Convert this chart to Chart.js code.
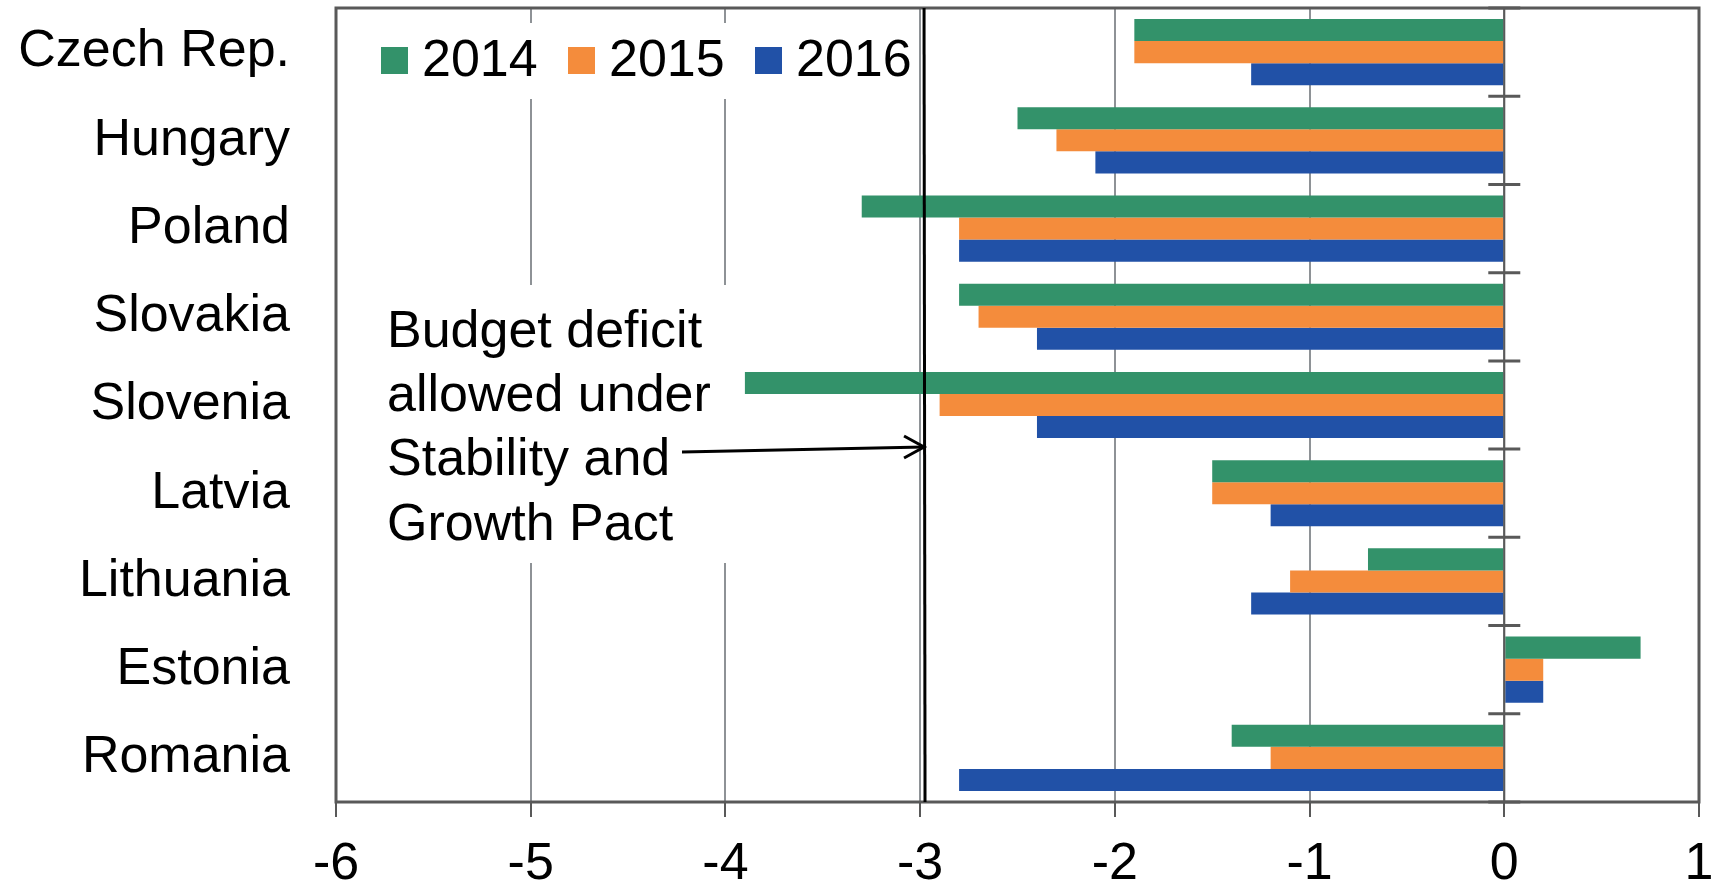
<!DOCTYPE html>
<html>
<head>
<meta charset="utf-8">
<script src="https://cdn.jsdelivr.net/npm/chart.js@4.4.1/dist/chart.umd.min.js"></script>
<style>
html,body{margin:0;padding:0;background:#fff;}
#wrap{width:1713px;height:886px;}
</style>
</head>
<body>
<div id="wrap"><canvas id="deficitChart" width="1713" height="886"></canvas></div>
<script>

// ----------------------------
// データ
// ----------------------------

const countries = ["Czech Rep.","Hungary","Poland","Slovakia","Slovenia","Latvia","Lithuania","Estonia","Romania"];

const years = ["2014","2015","2016"];

const values2014 = [-1.9,-2.5,-3.3,-2.8,-3.9,-1.5,-0.7,0.7,-1.4];
const values2015 = [-1.9,-2.3,-2.8,-2.7,-2.9,-1.5,-1.1,0.2,-1.2];
const values2016 = [-1.3,-2.1,-2.8,-2.4,-2.4,-1.2,-1.3,0.2,-2.8];

const xTicks = [-6,-5,-4,-3,-2,-1,0,1];

const deficitLimit = -2.98;

const noteLines = ["Budget deficit","allowed under","Stability and","Growth Pact"];

const colors = ["#33926a","#f48c3c","#2151a7"];

const FONT = '"Liberation Sans", Arial, sans-serif';
const AXIS_GREY = "#595959";

// ----------------------------
// 枠・凡例・注釈
// ----------------------------

const decoPlugin = {

id:"deco",

beforeDatasetsDraw(chart){

    const ctx = chart.ctx;
    const a = chart.chartArea;

    // 凡例と注釈の白い背景 (グリッドを隠す)
    ctx.save();
    ctx.fillStyle = "#fff";
    ctx.fillRect(a.left + 30, a.top + 15, 550, 76);
    ctx.fillRect(a.left + 30, a.top + 277, 380, 278);
    ctx.restore();

},

afterDatasetsDraw(chart){

    const ctx = chart.ctx;
    const a = chart.chartArea;
    const x = chart.scales.x;
    const y = chart.scales.y;

    ctx.save();

    // 0 の縦軸
    const x0 = x.getPixelForValue(0);
    ctx.strokeStyle = AXIS_GREY;
    ctx.lineWidth = 2;
    ctx.beginPath();
    ctx.moveTo(x0, a.top);
    ctx.lineTo(x0, a.bottom);
    ctx.stroke();

    // カテゴリ境界の目盛り
    ctx.lineWidth = 3;
    for(let i = 0; i <= countries.length; i++){
        const yy = y.getPixelForValue(i - 0.5);
        ctx.beginPath();
        ctx.moveTo(x0 - 16, yy);
        ctx.lineTo(x0 + 16, yy);
        ctx.stroke();
    }

    // 外枠
    ctx.lineWidth = 3;
    ctx.strokeRect(a.left, a.top, a.right - a.left, a.bottom - a.top);

    // -3% の線
    const xl = x.getPixelForValue(deficitLimit);
    ctx.strokeStyle = "#000";
    ctx.lineWidth = 3;
    ctx.beginPath();
    ctx.moveTo(xl, a.top);
    ctx.lineTo(xl + 1, a.bottom);
    ctx.stroke();

    // 凡例
    ctx.font = "52px " + FONT;
    ctx.textBaseline = "middle";
    ctx.fillStyle = "#000";
    const legendX = [a.left + 45, a.left + 232, a.left + 419];
    years.forEach((yr, i) => {
        ctx.fillStyle = colors[i];
        ctx.fillRect(legendX[i], a.top + 39, 27, 27);
        ctx.fillStyle = "#000";
        ctx.fillText(yr, legendX[i] + 41, a.top + 54);
    });

    // 注釈
    ctx.textBaseline = "alphabetic";
    noteLines.forEach((t, i) => {
        ctx.fillText(t, a.left + 51, a.top + 339 + i * 64.2);
    });

    // 矢印
    const ax0 = a.left + 346;
    const ay0 = a.top + 444;
    const ay1 = a.top + 439;
    ctx.strokeStyle = "#000";
    ctx.lineWidth = 3;
    ctx.beginPath();
    ctx.moveTo(ax0, ay0);
    ctx.lineTo(xl, ay1);
    ctx.stroke();
    ctx.beginPath();
    ctx.moveTo(xl - 20, ay1 - 11);
    ctx.lineTo(xl, ay1);
    ctx.lineTo(xl - 20, ay1 + 11);
    ctx.stroke();

    ctx.restore();

}

};

// ----------------------------
// 横棒グラフ
// ----------------------------

new Chart(

document.getElementById("deficitChart"),

{

type:"bar",

data:{

labels:countries,

datasets:[
{label:years[0], data:values2014, backgroundColor:colors[0]},
{label:years[1], data:values2015, backgroundColor:colors[1]},
{label:years[2], data:values2016, backgroundColor:colors[2]}
]

},

options:{

indexAxis:"y",

responsive:false,

animation:false,

devicePixelRatio:1,

layout:{padding:{top:8,right:14,bottom:0,left:0}},

datasets:{bar:{categoryPercentage:0.75, barPercentage:1}},

plugins:{

legend:{display:false},

tooltip:{enabled:false}

},

scales:{

x:{

min:xTicks[0],

max:xTicks[xTicks.length - 1],

afterBuildTicks(scale){
    scale.ticks = xTicks.map(v => ({value:v}));
},

afterFit(scale){
    scale.height = 84;
    scale.paddingLeft = 0;
    scale.paddingRight = 0;
},

border:{display:false},

grid:{
    color:"#8e9296",
    lineWidth:2,
    tickLength:15,
    tickColor:AXIS_GREY,
    tickWidth:2
},

ticks:{
    color:"#000",
    padding:16,
    font:{size:52, family:FONT},
    callback:(v) => String(v)
}

},

y:{

afterFit(scale){
    scale.width = 336;
    scale.paddingTop = 0;
    scale.paddingBottom = 0;
},

border:{display:false},

grid:{display:false, drawTicks:false},

ticks:{
    color:"#000",
    padding:46,
    font:{size:52, family:FONT}
}

}

}

},

plugins:[decoPlugin]

}

);

</script>
</body>
</html>
